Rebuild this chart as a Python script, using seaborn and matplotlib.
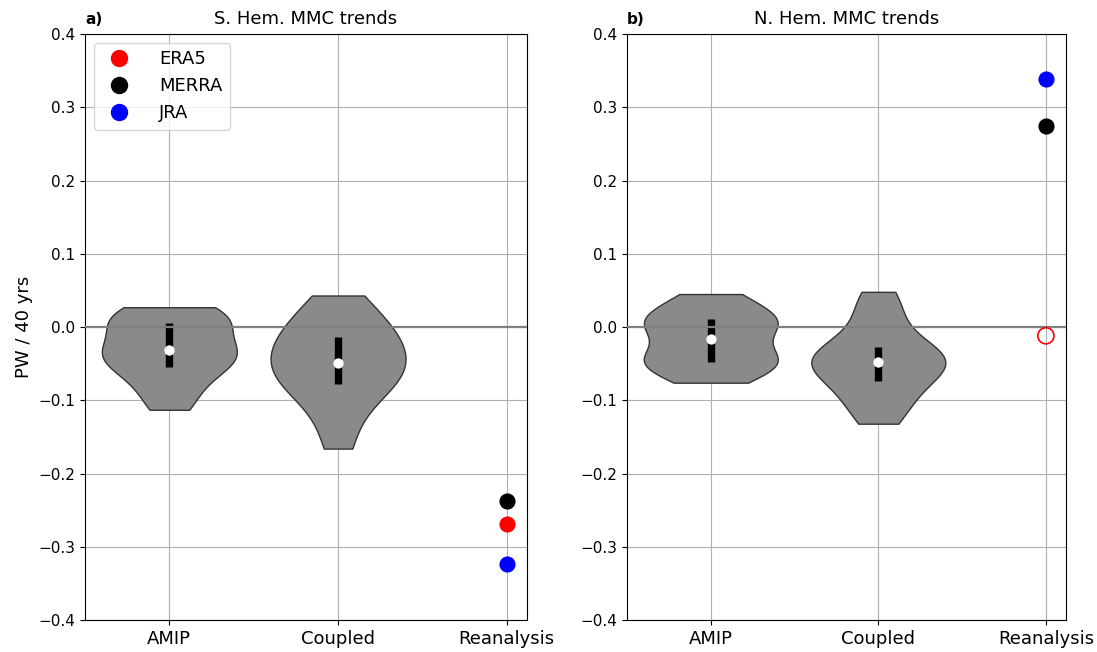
import numpy as np
import pandas as pd
import matplotlib
matplotlib.use("Agg")
import matplotlib.pyplot as plt
import seaborn as sns
from matplotlib.lines import Line2D

# Experiment categories along the x axis
experiments = ["AMIP", "Coupled", "Reanalysis"]

# Reanalysis products and their colours
reanalyses = ["ERA5", "MERRA", "JRA"]
rean_colors = ["red", "black", "blue"]

# Ensemble-member MMC trends (PW / 40 yrs), Southern Hemisphere
sh_amip = [-0.113, -0.092, -0.074, -0.058, -0.050, -0.044, -0.038, -0.031,
           -0.025, -0.012, 0.002, 0.010, 0.015, 0.021, 0.027]
sh_coupled = [-0.166, -0.125, -0.100, -0.085, -0.071, -0.065, -0.057, -0.049,
              -0.030, -0.026, -0.021, -0.005, 0.008, 0.022, 0.043]

# Ensemble-member MMC trends (PW / 40 yrs), Northern Hemisphere
nh_amip = [-0.076, -0.064, -0.055, -0.050, -0.046, -0.038, -0.030, -0.016,
           -0.004, 0.002, 0.008, 0.013, 0.020, 0.032, 0.045]
nh_coupled = [-0.132, -0.110, -0.098, -0.080, -0.068, -0.060, -0.053, -0.048,
              -0.042, -0.036, -0.030, -0.024, 0.005, 0.025, 0.048]

# Reanalysis trends (ERA5, MERRA, JRA) and whether each trend is significant
sh_rean = [-0.269, -0.237, -0.324]
nh_rean = [-0.012, 0.274, 0.339]
sh_rean_sig = [True, True, True]
nh_rean_sig = [False, True, True]

panels = [
    ("a)", "S. Hem. MMC trends", sh_amip, sh_coupled, sh_rean, sh_rean_sig),
    ("b)", "N. Hem. MMC trends", nh_amip, nh_coupled, nh_rean, nh_rean_sig),
]

fig = plt.figure(figsize=(10.97, 6.52), dpi=100)
axes = [
    fig.add_axes([85 / 1097, 32 / 652, 442 / 1097, 586 / 652]),
    fig.add_axes([627 / 1097, 32 / 652, 439 / 1097, 586 / 652]),
]

for ax, (tag, title, amip, coupled, rean, sig) in zip(axes, panels):
    df = pd.DataFrame({
        "experiment": ["AMIP"] * len(amip) + ["Coupled"] * len(coupled),
        "trend": amip + coupled,
    })
    sns.violinplot(data=df, x="experiment", y="trend", order=experiments,
                   color="#8a8a8a", saturation=1, cut=0, inner=None,
                   linecolor="#333333", linewidth=1.0, width=0.8,
                   density_norm="width", bw_adjust=0.9, ax=ax, zorder=2)

    # Interquartile bar and median dot for each ensemble
    for name, vals in (("AMIP", amip), ("Coupled", coupled)):
        pos = experiments.index(name)
        q1, med, q3 = np.percentile(vals, [25, 50, 75])
        ax.vlines(pos, q1, q3, color="black", lw=5.3, zorder=3)
        ax.scatter(pos, med, s=55, color="white", zorder=4, linewidths=0)

    # Reanalysis estimates
    rpos = experiments.index("Reanalysis")
    for val, col, s in zip(rean, rean_colors, sig):
        ax.scatter(rpos, val, s=135, zorder=5,
                   facecolor=col if s else "none", edgecolor=col,
                   linewidths=0 if s else 1.2)

    ax.axhline(0, color="gray", lw=1.6, zorder=4)
    ax.set_xlim(-0.5, 2.12)
    ax.set_ylim(-0.4, 0.4)
    ax.set_yticks(np.arange(-0.4, 0.41, 0.1))
    ax.grid(True, color="#b0b0b0", lw=0.8)
    ax.set_axisbelow(True)
    ax.tick_params(axis="x", labelsize=13)
    ax.tick_params(axis="y", labelsize=11)
    ax.set_xlabel("")
    ax.set_ylabel("")
    ax.set_title(title, fontsize=13, pad=7)
    ax.text(0.0, 1.012, tag, transform=ax.transAxes, fontsize=11,
            fontweight="bold", ha="left", va="bottom")

axes[0].set_ylabel("PW / 40 yrs", fontsize=13)

handles = [Line2D([], [], marker="o", ls="", color=c, markersize=11.5)
           for c in rean_colors]
axes[0].legend(handles, reanalyses, loc="upper left", fontsize=13,
               handletextpad=1.2, borderaxespad=0.5)

fig.savefig("out.png", dpi=100)
